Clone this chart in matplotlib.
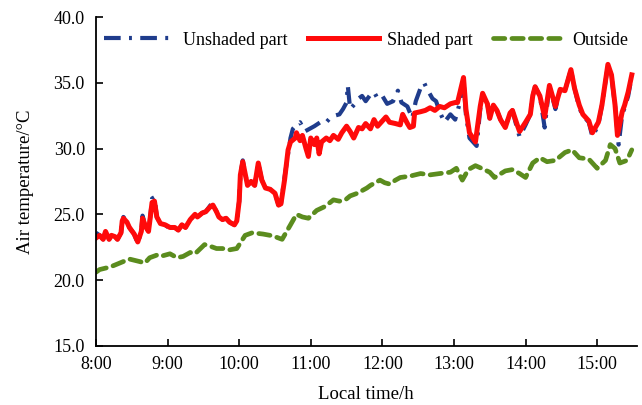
import numpy as np
import matplotlib.pyplot as plt

plt.rcParams['font.family'] = ['Liberation Serif', 'DejaVu Serif']

# minutes after 8:00 and air temperature (degC)
shaded_min = [0, 3, 6, 8, 11, 13, 16, 18, 21, 22, 23, 26, 28, 32, 35, 38, 39, 42, 44, 45,
              47, 49, 51, 54, 58, 62, 66, 69, 72, 75, 79, 83, 85, 89, 92, 96, 98, 101, 103, 106,
              109, 112, 116, 118, 120, 121, 123, 127, 130, 133, 136, 139, 142, 146, 150, 153, 155, 158, 161, 163,
              167, 168, 171, 173, 176, 178, 180, 183, 185, 187, 189, 193, 196, 199, 203, 206, 210, 213, 216, 220,
              223, 226, 230, 233, 236, 240, 243, 246, 251, 255, 257, 261, 263, 266, 267, 272, 276, 280, 284, 288,
              292, 297, 301, 303, 308, 310, 313, 318, 322, 324, 328, 330, 333, 336, 339, 343, 347, 349, 353, 355,
              360, 364, 366, 368, 372, 376, 380, 385, 389, 393, 398, 401, 405, 408, 413, 416, 421, 424, 429, 432,
              435, 437, 441, 443, 446, 449]
shaded_t = [23.2, 23.4, 23.1, 23.7, 23.1, 23.4, 23.3, 23.1, 23.6, 24.5, 24.7, 24.4, 24.0, 23.5, 22.9, 23.7, 24.7, 24.0, 23.7, 24.4,
            25.9, 26.0, 24.8, 24.3, 24.2, 24.0, 24.0, 23.8, 24.2, 24.0, 24.6, 25.0, 24.8, 25.1, 25.2, 25.6, 25.7, 25.2, 24.8, 24.6,
            24.7, 24.4, 24.2, 24.5, 26.0, 28.0, 29.0, 27.2, 27.5, 27.2, 28.9, 27.6, 27.0, 26.9, 26.6, 25.7, 25.8, 27.6, 29.9, 30.5,
            30.8, 31.2, 30.6, 31.0, 30.0, 29.4, 30.8, 30.3, 30.8, 29.6, 30.5, 30.8, 30.6, 31.0, 30.7, 31.2, 31.7, 31.3, 30.8, 31.6,
            31.5, 31.9, 31.5, 32.2, 31.7, 32.1, 32.4, 32.0, 31.9, 31.8, 32.6, 31.9, 31.6, 31.7, 32.7, 32.8, 32.9, 33.1, 32.9, 33.2,
            33.1, 33.4, 33.5, 33.5, 35.4, 33.0, 31.2, 30.5, 33.2, 34.2, 33.4, 32.3, 33.3, 32.9, 32.2, 31.6, 32.7, 32.9, 31.8, 31.3,
            32.0, 32.6, 34.0, 34.7, 34.0, 32.4, 34.8, 33.2, 34.5, 34.4, 36.0, 34.6, 33.3, 32.6, 32.1, 31.2, 32.0, 33.3, 36.4, 35.6,
            33.3, 31.0, 32.8, 33.3, 34.3, 35.6]

unshaded_min = [0, 3, 6, 8, 11, 13, 16, 18, 21, 22, 23, 26, 28, 32, 35, 38, 39, 42, 44, 45,
                47, 49, 51, 54, 58, 62, 66, 69, 72, 75, 79, 83, 85, 89, 92, 96, 98, 101, 103, 106,
                109, 112, 116, 118, 120, 121, 123, 127, 130, 133, 136, 139, 142, 146, 150, 153, 155, 158, 163, 165,
                168, 171, 175, 179, 183, 188, 192, 196, 200, 204, 207, 210, 211, 213, 217, 220, 223, 226, 230, 233,
                236, 240, 244, 249, 253, 256, 261, 265, 268, 272, 275, 277, 282, 285, 288, 292, 297, 301, 305, 308,
                310, 313, 319, 322, 324, 328, 330, 333, 336, 339, 343, 347, 349, 353, 355, 360, 364, 366, 368, 372,
                376, 380, 385, 389, 393, 398, 401, 405, 408, 413, 416, 421, 424, 429, 432, 435, 438, 441, 443, 446, 449]
unshaded_t = [23.6, 23.4, 23.1, 23.7, 23.1, 23.4, 23.3, 23.1, 23.6, 24.5, 24.8, 24.4, 24.0, 23.5, 22.8, 23.7, 24.9, 24.0, 23.7, 24.4,
              26.2, 26.3, 24.8, 24.3, 24.2, 23.9, 24.0, 23.8, 24.2, 24.0, 24.6, 25.0, 24.8, 25.1, 25.2, 25.7, 25.8, 25.2, 24.8, 24.6,
              24.7, 24.4, 24.2, 24.4, 26.0, 28.0, 29.1, 27.2, 27.5, 27.2, 28.9, 27.6, 27.0, 26.9, 26.6, 25.7, 25.8, 27.8, 30.8, 31.5,
              31.8, 32.0, 31.3, 31.5, 31.7, 32.0, 31.9, 32.3, 32.5, 32.6, 33.0, 33.5, 34.8, 33.0, 33.4, 33.8, 34.0, 33.6, 34.1, 34.3,
              33.8, 34.0, 33.4, 33.6, 34.4, 33.5, 33.2, 32.3, 33.6, 34.6, 35.0, 34.6, 33.8, 33.6, 32.8, 32.0, 32.6, 32.2, 33.5, 35.2,
              32.6, 30.8, 30.2, 33.0, 34.0, 33.4, 32.3, 33.3, 32.9, 32.2, 31.6, 32.7, 32.9, 31.5, 30.9, 31.8, 32.6, 34.0, 34.7, 34.0,
              31.6, 34.8, 33.0, 34.5, 34.4, 36.0, 34.6, 33.1, 32.5, 32.0, 30.9, 31.8, 33.3, 36.3, 35.5, 33.2, 30.3, 32.6, 33.1, 34.0, 35.5]

outside_min = [0, 3, 12, 20, 28, 37, 41, 45, 51, 54, 62, 68, 73, 79, 83, 91, 95, 101, 106, 112,
               118, 125, 131, 140, 146, 150, 156, 163, 168, 173, 178, 185, 192, 199, 204, 209, 213, 219, 223, 227,
               230, 234, 238, 242, 246, 251, 255, 263, 272, 280, 288, 297, 302, 307, 312, 318, 323, 330, 334, 343,
               349, 355, 360, 366, 372, 378, 385, 393, 399, 405, 413, 420, 427, 431, 435, 439, 445, 449]
outside_t = [20.6, 20.8, 21.0, 21.3, 21.6, 21.4, 21.3, 21.7, 21.9, 21.8, 22.0, 21.7, 21.8, 22.1, 22.0, 22.7, 22.6, 22.4, 22.4, 22.3,
             22.4, 23.4, 23.6, 23.5, 23.4, 23.3, 23.1, 24.2, 25.0, 24.8, 24.7, 25.3, 25.6, 26.1, 26.0, 26.1, 26.4, 26.6, 26.8, 27.0,
             27.2, 27.4, 27.6, 27.4, 27.3, 27.6, 27.8, 27.9, 28.1, 28.0, 28.1, 28.2, 28.5, 27.6, 28.4, 28.7, 28.5, 28.2, 27.8, 28.3,
             28.4, 28.1, 27.8, 28.9, 29.3, 29.0, 29.1, 29.7, 29.9, 29.3, 29.2, 28.5, 29.1, 30.3, 30.0, 28.9, 29.1, 29.9]

tick_hours = [8, 9, 10, 11, 12, 13, 14, 15]
tick_labels = ['8:00', '9:00', '10:00', '11:00', '12:00', '13:00', '14:00', '15:00']

fig = plt.figure(figsize=(6.42, 4.05), dpi=100)
ax = fig.add_axes([0.1495, 0.146, 0.842, 0.812])

ax.plot(8 + np.array(unshaded_min) / 60, unshaded_t, color='#1f3c8c', lw=3.0,
        linestyle=(0, (4, 2, 0.7, 2)), label='Unshaded part')
ax.plot(8 + np.array(shaded_min) / 60, shaded_t, color='#ff0a0a', lw=3.6, label='Shaded part')
ax.plot(8 + np.array(outside_min) / 60, outside_t, color='#5b8c1e', lw=3.4,
        linestyle=(0, (2.4, 1.5)), dash_capstyle='round', label='Outside')

ax.set_xlim(8, 15.55)
ax.set_ylim(15, 40)
ax.set_xticks(tick_hours)
ax.set_xticklabels(tick_labels)
ax.set_yticks([15, 20, 25, 30, 35, 40])
ax.set_yticklabels(['15.0', '20.0', '25.0', '30.0', '35.0', '40.0'])
ax.tick_params(direction='in', length=5, width=1.2, labelsize=13)
ax.tick_params(axis='x', pad=7)
ax.tick_params(axis='y', pad=8)
for s in ['top', 'right']:
    ax.spines[s].set_visible(False)
for s in ['left', 'bottom']:
    ax.spines[s].set_linewidth(1.3)

ax.set_xlabel('Local time/h', fontsize=13.5, labelpad=10)
ax.set_ylabel('Air temperature/°C', fontsize=13.5, labelpad=14)

ax.legend(loc='upper center', bbox_to_anchor=(0.5, 1.005), ncol=3, frameon=False,
          fontsize=13, handlelength=3.9, columnspacing=1.15, handletextpad=0.45)

fig.savefig('out.png', dpi=100)
